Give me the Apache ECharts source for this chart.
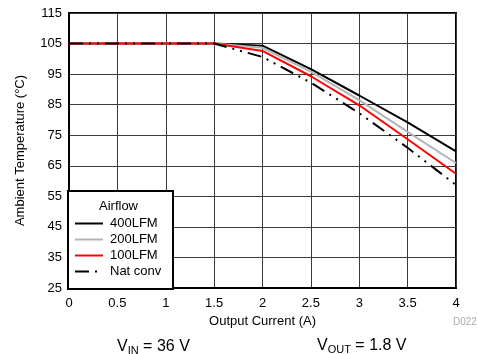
<!DOCTYPE html>
<html>
<head>
<meta charset="utf-8">
<script src="https://cdn.jsdelivr.net/npm/echarts@6/dist/echarts.min.js"></script>
<style>
html,body{margin:0;padding:0;background:#fff;}
#chart{width:477px;height:354px;}
</style>
</head>
<body>
<div id="chart"></div>
<script>
const currents = [0, 1.5, 2, 2.5, 3, 3.5, 4];
const lfm400 = [105, 105, 104.3, 96.6, 88, 79.2, 69.7];
const lfm200 = [105, 105, 103.6, 95.8, 86.5, 76.1, 65.9];
const lfm100 = [105, 105, 102.6, 94.3, 84.8, 73.7, 62.4];
const natConv = [105, 105, 100.6, 92.2, 82.2, 70.9, 58.7];
const seriesNames = ['400LFM', '200LFM', '100LFM', 'Nat conv'];
const xTicks = ['0', '0.5', '1', '1.5', '2', '2.5', '3', '3.5', '4'];
const yTicks = ['25', '35', '45', '55', '65', '75', '85', '95', '105', '115'];

function pairs(ys){ return currents.map((x,i)=>[x, ys[i]]); }
const FONT = '"Liberation Sans", Arial, sans-serif';

const chart = echarts.init(document.getElementById('chart'), null, {renderer:'canvas'});
chart.setOption({
  animation: false,
  backgroundColor: '#fff',
  textStyle: {fontFamily: FONT},
  grid: {left: 69, right: 21, top: 13, bottom: 66, show: true, borderColor: '#000', borderWidth: 2, backgroundColor: 'transparent'},
  xAxis: {
    type: 'value', min: 0, max: 4, interval: 0.5,
    name: 'Output Current (A)', nameLocation: 'middle', nameGap: 27,
    nameTextStyle: {fontSize: 13, color: '#000', fontFamily: FONT},
    axisLine: {show: true, lineStyle: {color: '#000', width: 2}},
    axisTick: {show: false},
    axisLabel: {fontSize: 13, color: '#000', margin: 9, fontFamily: FONT,
      formatter: (v)=> xTicks[Math.round(v/0.5)]},
    splitLine: {show: true, lineStyle: {color: '#3a3a3a', width: 1}}
  },
  yAxis: {
    type: 'value', min: 25, max: 115, interval: 10,
    name: 'Ambient Temperature (\u00B0C)', nameLocation: 'middle', nameGap: 42, nameRotate: 90,
    nameTextStyle: {fontSize: 13, color: '#000', fontFamily: FONT},
    axisLine: {show: true, lineStyle: {color: '#000', width: 2}},
    axisTick: {show: false},
    axisLabel: {fontSize: 13, color: '#000', margin: 7, fontFamily: FONT,
      formatter: (v)=> yTicks[Math.round((v-25)/10)]},
    splitLine: {show: true, lineStyle: {color: '#3a3a3a', width: 1}}
  },
  legend: {
    show: true, orient: 'vertical', left: 74, top: 217,
    itemWidth: 28, itemHeight: 10, itemGap: 3,
    padding: 0, z: 20,
    itemStyle: {opacity: 0},
    textStyle: {fontSize: 13, color: '#000', fontFamily: FONT, padding: [0,0,0,2]},
    data: seriesNames
  },
  graphic: [
    {type: 'rect', left: 67, top: 190, z: 15,
      shape: {width: 105, height: 98},
      style: {fill: '#fff', stroke: '#000', lineWidth: 2}},
    {type: 'text', left: 99, top: 200, z: 16,
      style: {text: 'Airflow', font: '13px ' + FONT, fill: '#000'}},
    {type: 'text', left: 117, top: 339, z: 16,
      style: {text: '{a|V}{s|IN}{a| = 36 V}', rich: {
        a: {fontSize: 16, fontFamily: FONT, color: '#000'},
        s: {fontSize: 11, fontFamily: FONT, color: '#000', padding: [8,0,0,0]}}}},
    {type: 'text', left: 317, top: 338, z: 16,
      style: {text: '{a|V}{s|OUT}{a| = 1.8 V}', rich: {
        a: {fontSize: 16, fontFamily: FONT, color: '#000'},
        s: {fontSize: 11, fontFamily: FONT, color: '#000', padding: [8,0,0,0]}}}},
    {type: 'text', left: 453, top: 317, z: 16,
      style: {text: 'D022', font: '10px ' + FONT, fill: '#aaa'}}
  ],
  series: [
    {name: seriesNames[0], type: 'line', data: pairs(lfm400), symbol: 'none', z: 3,
      lineStyle: {color: '#000', width: 2}, itemStyle: {color: '#000'}},
    {name: seriesNames[1], type: 'line', data: pairs(lfm200), symbol: 'none', z: 4,
      lineStyle: {color: '#b4b4b4', width: 2}, itemStyle: {color: '#b4b4b4'}},
    {name: seriesNames[2], type: 'line', data: pairs(lfm100), symbol: 'none', z: 5,
      lineStyle: {color: '#ff0000', width: 2}, itemStyle: {color: '#ff0000'}},
    {name: seriesNames[3], type: 'line', data: pairs(natConv), symbol: 'none', z: 6,
      lineStyle: {color: '#000', width: 2, type: [14, 6, 2, 6, 2, 6]}, itemStyle: {color: '#000'}}
  ]
});
</script>
</body>
</html>
